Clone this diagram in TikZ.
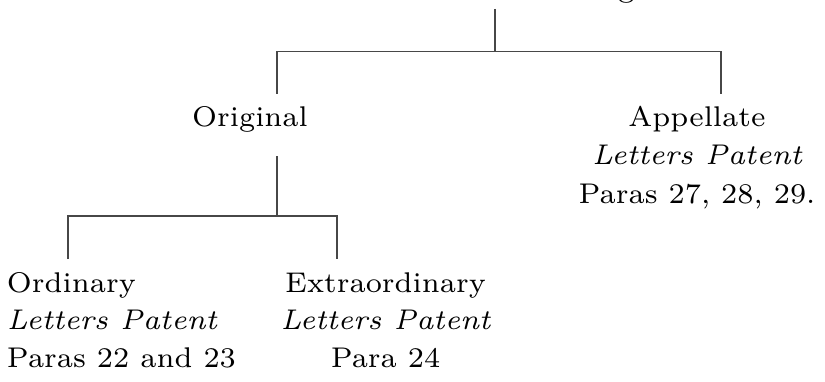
\documentclass[tikz,border=0pt]{standalone}
\begin{document}
\begin{tikzpicture}[x=0.2457pt,y=-0.2457pt,
  lbl/.style={inner sep=0pt,outer sep=0pt,font=\fontsize{7}{9}\selectfont},
  lw/.style={lbl,anchor=base west},
  lc/.style={lbl,anchor=base},
  conn/.style={draw=black!72,line width=0.3pt}]
\useasboundingbox (0,0) rectangle (825,381);
% cut-off top label (only its descender is visible)
\node[lw] (toplbl) at (618,-2.3) {g};
% level 1
\node[lc] (orig) at (250,127) {Original};
\node[lc] (appel) at (697,126) {Appellate};
\node[lc] (appelb) at (697,164.5) {\itshape Letters Patent};
\node[lc] (appelc) at (697,203) {Paras 27, 28, 29.};
% level 2
\node[lw] (ord) at (7,292) {Ordinary};
\node[lw] (ordb) at (7,329.5) {\itshape Letters Patent};
\node[lw] (ordc) at (7,367.5) {Paras 22 and 23};
\node[lc] (ext) at (385.5,292) {Extraordinary};
\node[lc] (extb) at (385.5,329.5) {\itshape Letters Patent};
\node[lc] (extc) at (385.5,367.5) {Para 24};
% connector points
\coordinate (topend) at (495,9);
\coordinate (tj) at (495,51.5);
\coordinate (origtop) at (277,94);
\coordinate (appeltop) at (721,94);
\coordinate (origbot) at (277,156);
\coordinate (oj) at (277,216);
\coordinate (ordtop) at (68,259);
\coordinate (extop) at (337,259);
% connectors
\draw[conn] (topend) -- (tj);
\draw[conn] (origtop) |- (tj) -| (appeltop);
\draw[conn] (origbot) -- (oj);
\draw[conn] (ordtop) |- (oj) -| (extop);
\end{tikzpicture}
\end{document}
